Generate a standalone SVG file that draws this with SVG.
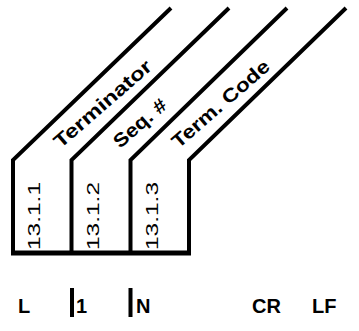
<svg xmlns="http://www.w3.org/2000/svg" width="359" height="331" viewBox="0 0 359 331">
  <style>
    .wall { fill: none; stroke: #000; stroke-width: 4; stroke-linejoin: miter; }
    .base { fill: none; stroke: #000; stroke-width: 5; }
    .bar { fill: #000; }
    .num { font-family: "Liberation Sans", Arial, sans-serif; font-size: 17px; fill: #000; }
    .name { font-family: "Liberation Sans", Arial, sans-serif; font-size: 19px; font-weight: bold; fill: #000; }
    .sym { font-family: "Liberation Sans", Arial, sans-serif; font-size: 20px; font-weight: bold; fill: #000; }
  </style>

  <rect width="359" height="331" fill="#fff"/>

  <!-- channel walls and floor -->
  <g id="connectors">
    <path class="wall" d="M13,253 V160 L171,8"/>
    <path class="wall" d="M71.5,253 V160 L229,8"/>
    <path class="wall" d="M130.5,253 V160 L287,8"/>
    <path class="wall" d="M189,253 V160 L346,8"/>
    <path class="base" d="M11,253 H191"/>
  </g>

  <!-- field: Terminator -->
  <g id="field-terminator">
    <text class="name" transform="translate(60.5,149) rotate(-41)" textLength="123" lengthAdjust="spacingAndGlyphs">Terminator</text>
    <text class="num" transform="translate(40,250) rotate(-90)" textLength="68" lengthAdjust="spacingAndGlyphs">13.1.1</text>
  </g>

  <!-- field: Seq. # -->
  <g id="field-seq">
    <text class="name" transform="translate(120,149) rotate(-41)" textLength="64" lengthAdjust="spacingAndGlyphs">Seq. #</text>
    <text class="num" transform="translate(99,250) rotate(-90)" textLength="68" lengthAdjust="spacingAndGlyphs">13.1.2</text>
  </g>

  <!-- field: Term. Code -->
  <g id="field-termcode">
    <text class="name" transform="translate(178.5,149) rotate(-41)" textLength="123" lengthAdjust="spacingAndGlyphs">Term. Code</text>
    <text class="num" transform="translate(158,250) rotate(-90)" textLength="68" lengthAdjust="spacingAndGlyphs">13.1.3</text>
  </g>

  <!-- legend row -->
  <g id="legend">
    <text class="sym" x="18" y="313">L</text>
    <rect class="bar" x="70" y="288" width="4" height="29"/>
    <text class="sym" x="76" y="313">1</text>
    <rect class="bar" x="128.5" y="288" width="4" height="29"/>
    <text class="sym" x="136" y="313">N</text>
    <text class="sym" x="252" y="313">CR</text>
    <text class="sym" x="312" y="313">LF</text>
  </g>
</svg>
